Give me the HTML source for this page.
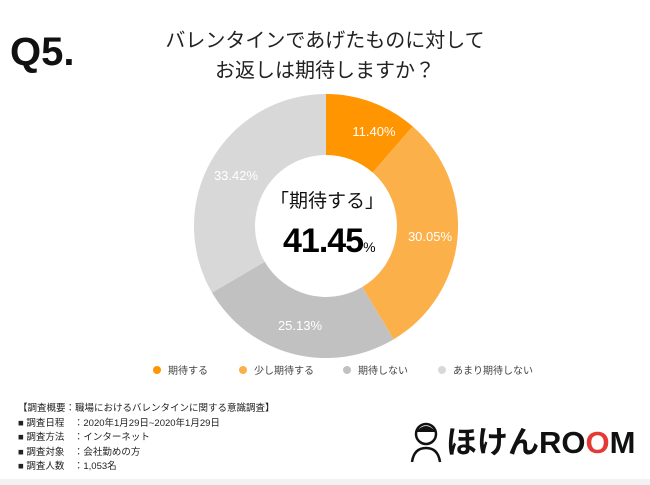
<!DOCTYPE html>
<html><head><meta charset="utf-8"><style>
body{margin:0;width:650px;height:485px;background:#fff;overflow:hidden;position:relative;font-family:"Liberation Sans","Noto Sans CJK JP",sans-serif}
.a{position:absolute;white-space:nowrap}
</style></head><body>
<div class="a" style="left:10px;top:30px;font-size:40px;font-weight:bold;color:#111">Q5.</div>
<div class="a" style="left:0;width:650px;text-align:center;top:26px;font-size:20px;line-height:30px;color:#222">バレンタインであげたものに対して<br>お返しは期待しますか？</div>
<svg class="a" style="left:0;top:0" width="650" height="485">
<path d="M326,94 A132,132 0 0 1 412.7,126.4 L372.6,172.5 A71,71 0 0 0 326,155Z" fill="#FF9500"/>
<path d="M412.7,126.4 A132,132 0 0 1 393.6,339.4 L362.3,287 A71,71 0 0 0 372.6,172.5Z" fill="#FCB04A"/>
<path d="M393.6,339.4 A132,132 0 0 1 212,292.6 L264.7,261.8 A71,71 0 0 0 362.3,287Z" fill="#C1C1C1"/>
<path d="M212,292.6 A132,132 0 0 1 326,94 L326,155 A71,71 0 0 0 264.7,261.8Z" fill="#D8D8D8"/>
<g fill="#fff" font-size="13" text-anchor="middle" font-family="Liberation Sans,sans-serif">
<text x="374" y="136">11.40%</text><text x="430" y="241">30.05%</text><text x="300" y="330">25.13%</text><text x="236" y="180">33.42%</text></g>
<circle cx="157" cy="370" r="4" fill="#FF9500"/><circle cx="243" cy="370" r="4" fill="#FCB04A"/><circle cx="347" cy="370" r="4" fill="#C1C1C1"/><circle cx="442" cy="370" r="4" fill="#D8D8D8"/>
<g font-size="10" fill="#444" font-family="Liberation Sans,Noto Sans CJK JP,sans-serif"><text x="168" y="374">期待する</text><text x="254" y="374">少し期待する</text><text x="358" y="374">期待しない</text><text x="453" y="374">あまり期待しない</text></g>
</svg>
<div class="a" style="left:270px;top:186px;font-size:19px;color:#111">「期待する」</div>
<div class="a" style="left:283px;top:222px;font-size:34px;font-weight:bold;color:#000;letter-spacing:-1px">41.45<span style="font-size:14px;font-weight:normal">%</span></div>
<div class="a" style="left:18px;top:402px;font-size:9.5px;line-height:14.5px;color:#222">【調査概要：職場におけるバレンタインに関する意識調査】<br>■ 調査日程　：2020年1月29日~2020年1月29日<br>■ 調査方法　：インターネット<br>■ 調査対象　：会社勤めの方<br>■ 調査人数　：1,053名</div>
<svg class="a" style="left:410px;top:420px" width="34" height="44"><circle cx="16" cy="14" r="10" fill="none" stroke="#111" stroke-width="2.5"/><path d="M6,12 Q16,0 26,12" fill="#111"/><path d="M2,42 Q4,28 16,28 Q28,28 30,42" fill="none" stroke="#111" stroke-width="2.5"/></svg>
<div class="a" style="left:446px;top:417px;font-size:31px;font-weight:bold;color:#111;letter-spacing:0">ほけんRO<span style="color:#E53935">O</span>M</div>
<div class="a" style="left:0;top:479px;width:650px;height:6px;background:#f2f2f2"></div>
</body></html>
